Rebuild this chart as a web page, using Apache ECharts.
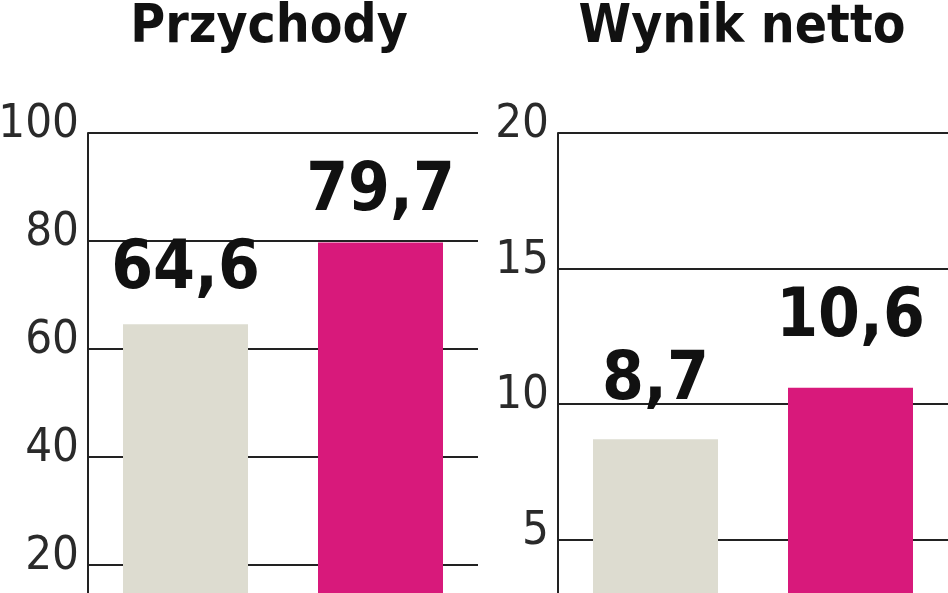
<!DOCTYPE html>
<html>
<head>
<meta charset="utf-8">
<script src="https://cdn.jsdelivr.net/npm/echarts@6/dist/echarts.min.js"></script>
<style>
html,body{margin:0;padding:0;background:#fff;}
#c{width:948px;height:593px;}
</style>
</head>
<body>
<div id="c"></div>
<script>
// Data
var titles = ['Przychody', 'Wynik netto'];
var categories = ['A', 'B'];
var revenueValues = [64.6, 79.7];
var netValues = [8.7, 10.6];
var revenueTicks = [0, 100, 20];
var netTicks = [0, 20, 5];

var barColors = ['#dddcd0', '#d8197b'];
var FONT = '"Liberation Sans Narrow", "DejaVu Sans Condensed", sans-serif';

function fmt(v) { return String(v).replace('.', ','); }

function barData(vals, dists) {
  return vals.map(function (v, i) {
    return { value: v, itemStyle: { color: barColors[i] }, label: { distance: dists[i] } };
  });
}

var chart = echarts.init(document.getElementById('c'), null, { renderer: 'canvas' });

function yAxis(idx, ticks) {
  return {
    type: 'value', gridIndex: idx, min: ticks[0], max: ticks[1], interval: ticks[2],
    axisLine: { show: true, lineStyle: { color: '#222', width: 2 } },
    axisTick: { show: false },
    splitLine: { show: true, lineStyle: { color: '#222', width: 2 } },
    axisLabel: {
      color: '#2a2a2a', fontFamily: FONT, fontSize: 47, margin: 9,
      verticalAlign: 'bottom', lineHeight: 16,
      formatter: function (v) { return String(v); }
    }
  };
}

function xAxis(idx) {
  return {
    type: 'category', gridIndex: idx, data: categories,
    axisLine: { show: false }, axisTick: { show: false }, axisLabel: { show: false },
    splitLine: { show: false }
  };
}

function series(idx, vals, dists) {
  return {
    type: 'bar', xAxisIndex: idx, yAxisIndex: idx, data: barData(vals, dists),
    barWidth: 125, z: 3,
    label: {
      show: true, position: 'top', distance: 22,
      fontFamily: FONT, fontWeight: 'bold', fontSize: 67, color: '#111',
      formatter: function (p) { return fmt(p.value); }
    }
  };
}

chart.setOption({
  animation: false,
  backgroundColor: '#ffffff',
  title: [
    { text: titles[0], left: 264, top: -3, textAlign: 'center',
      textStyle: { fontFamily: FONT, fontWeight: 'bold', fontSize: 53, color: '#111' } },
    { text: titles[1], left: 737, top: -3, textAlign: 'center',
      textStyle: { fontFamily: FONT, fontWeight: 'bold', fontSize: 53, color: '#111' } }
  ],
  grid: [
    { left: 88, top: 133, width: 390, height: 540, containLabel: false, outerBoundsMode: 'none' },
    { left: 558, top: 133, width: 390, height: 542, containLabel: false, outerBoundsMode: 'none' }
  ],
  xAxis: [xAxis(0), xAxis(1)],
  yAxis: [yAxis(0, revenueTicks), yAxis(1, netTicks)],
  series: [series(0, revenueValues, [20, 17]), series(1, netValues, [24, 36])]
});
</script>
</body>
</html>
